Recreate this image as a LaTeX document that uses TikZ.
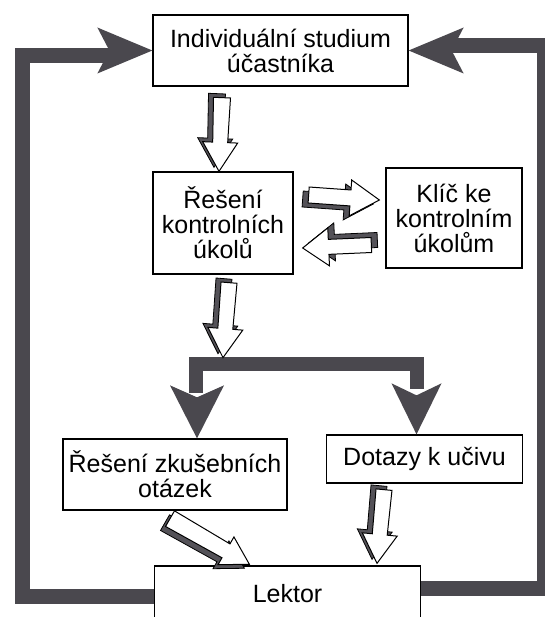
\documentclass[tikz,border=0pt]{standalone}
\usepackage{fontspec}
\setmainfont{Liberation Sans}
\usetikzlibrary{calc}
\definecolor{barc}{RGB}{74,72,78}
\definecolor{shadec}{RGB}{84,82,88}

\tikzset{
  box/.style={draw=black, line width=1.3pt, fill=white, align=center,
    font=\fontsize{25}{25}\selectfont, inner sep=0pt},
  bar/.style={draw=barc, line width=15pt, line join=miter, line cap=butt},
  headfill/.style={fill=barc},
  frontface/.style={fill=white, draw=black, line width=1pt, line join=miter},
  sideface/.style={fill=shadec, draw=black, line width=0.8pt, line join=miter},
}

% Hollow block arrow with a dark extruded side.
% #1 tail, #2 tip, #3 tail half-width, #4 neck half-width,
% #5 head half-width, #6 head length, #7 offset of the side face
\newcommand\blockarrow[7]{%
  \path let \p1=(#1), \p2=(#2),
        \n1={atan2(\y2-\y1,\x2-\x1)}, \n2={veclen(\x2-\x1,\y2-\y1)} in
    \pgfextra{\xdef\baang{\n1}\xdef\balen{\n2}\xdef\bax{\x1}\xdef\bay{\y1}};
  \filldraw[sideface, shift={#7}, shift={(\bax,\bay)}, rotate=\baang]
    (0,-#3) -- (\balen-#6,-#4) -- (\balen-#6,-#5) -- (\balen,0)
    -- (\balen-#6,#5) -- (\balen-#6,#4) -- (0,#3) -- cycle;
  \filldraw[frontface, shift={(\bax,\bay)}, rotate=\baang]
    (0,-#3) -- (\balen-#6,-#4) -- (\balen-#6,-#5) -- (\balen,0)
    -- (\balen-#6,#5) -- (\balen-#6,#4) -- (0,#3) -- cycle;
}

\begin{document}
\begin{tikzpicture}[x=1pt, y=-1pt]
  \useasboundingbox[fill=white] (0,0) rectangle (544,617);

  % boxes
  \node[box, minimum width=255pt, minimum height=71pt] (top) at (280.5,50.5)
    {Individuální studium\\účastníka};
  \node[box, minimum width=140pt, minimum height=102pt] (rk) at (223,223)
    {Řešení\\kontrolních\\úkolů};
  \node[box, minimum width=136pt, minimum height=100pt] (kl) at (454,218)
    {Klíč ke\\kontrolním\\úkolům};
  \node[box, minimum width=224pt, minimum height=71pt] (zk) at (175,474.5)
    {Řešení zkušebních\\otázek};
  \node[box, minimum width=196pt, minimum height=48pt] (dz) at (424.5,459)
    {Dotazy k učivu};
  \node[box, minimum width=266pt, minimum height=56pt] (lk) at (287.5,594)
    {Lektor};

  % feedback loops from the lecturer back to individual study
  \draw[bar] ([yshift=-2pt]lk.west) -| ([xshift=-130pt,yshift=-5.5pt]top.west)
    -- ([xshift=-40pt,yshift=-5.5pt]top.west);
  \fill[headfill] (top.west) -- ++(-55,-23) -- ++(12,23) -- ++(-12,23) -- cycle;

  \draw[bar] ([yshift=6pt]lk.east) -| ([xshift=136pt,yshift=4.5pt]top.east)
    -- ([xshift=40pt,yshift=4.5pt]top.east);
  \fill[headfill] (top.east) -- ++(55,-23) -- ++(-12,23) -- ++(12,23) -- cycle;

  % fork below the control tasks
  \coordinate (fork) at ([yshift=-83pt]rk.south);
  \draw[bar, line width=14pt] ([xshift=21pt,yshift=45pt]zk.north)
    |- ([yshift=-6.5pt]fork) -| ([xshift=-8pt,yshift=45pt]dz.north);
  \fill[headfill] ([xshift=22pt]zk.north) -- ++(-27,-53) -- ++(27,12)
    -- ++(27,-12) -- cycle;
  \fill[headfill] ([xshift=-8pt]dz.north) -- ++(-25,-51) -- ++(25,12)
    -- ++(25,-12) -- cycle;

  % hollow block arrows
  \blockarrow{[xshift=-58.5pt,yshift=-11pt]top.south}{[xshift=-4pt]rk.north}
    {8.5}{7.5}{17.5}{29}{(-5,-4)}
  \blockarrow{[xshift=6pt,yshift=-8pt]rk.south}{fork}
    {8}{7.5}{17.5}{29}{(-5,-4)}
  \blockarrow{[xshift=15pt,yshift=28pt]rk.east}{[xshift=-6pt,yshift=18pt]kl.west}
    {8}{8}{18}{29}{(-6,4)}
  \blockarrow{[xshift=-14pt,yshift=-27pt]kl.west}{[xshift=9pt,yshift=-25pt]rk.east}
    {7.5}{7.5}{19}{26}{(6,-5)}
  \blockarrow{[xshift=-5pt,yshift=-8pt]zk.south}{[xshift=-38pt,yshift=1pt]lk.north}
    {9}{8}{16}{27}{(-5,4)}
  \blockarrow{[xshift=-40.5pt,yshift=-6pt]dz.south}{[xshift=89.5pt,yshift=2pt]lk.north}
    {8}{7.5}{17.5}{29}{(-5,-4)}
\end{tikzpicture}
\end{document}
